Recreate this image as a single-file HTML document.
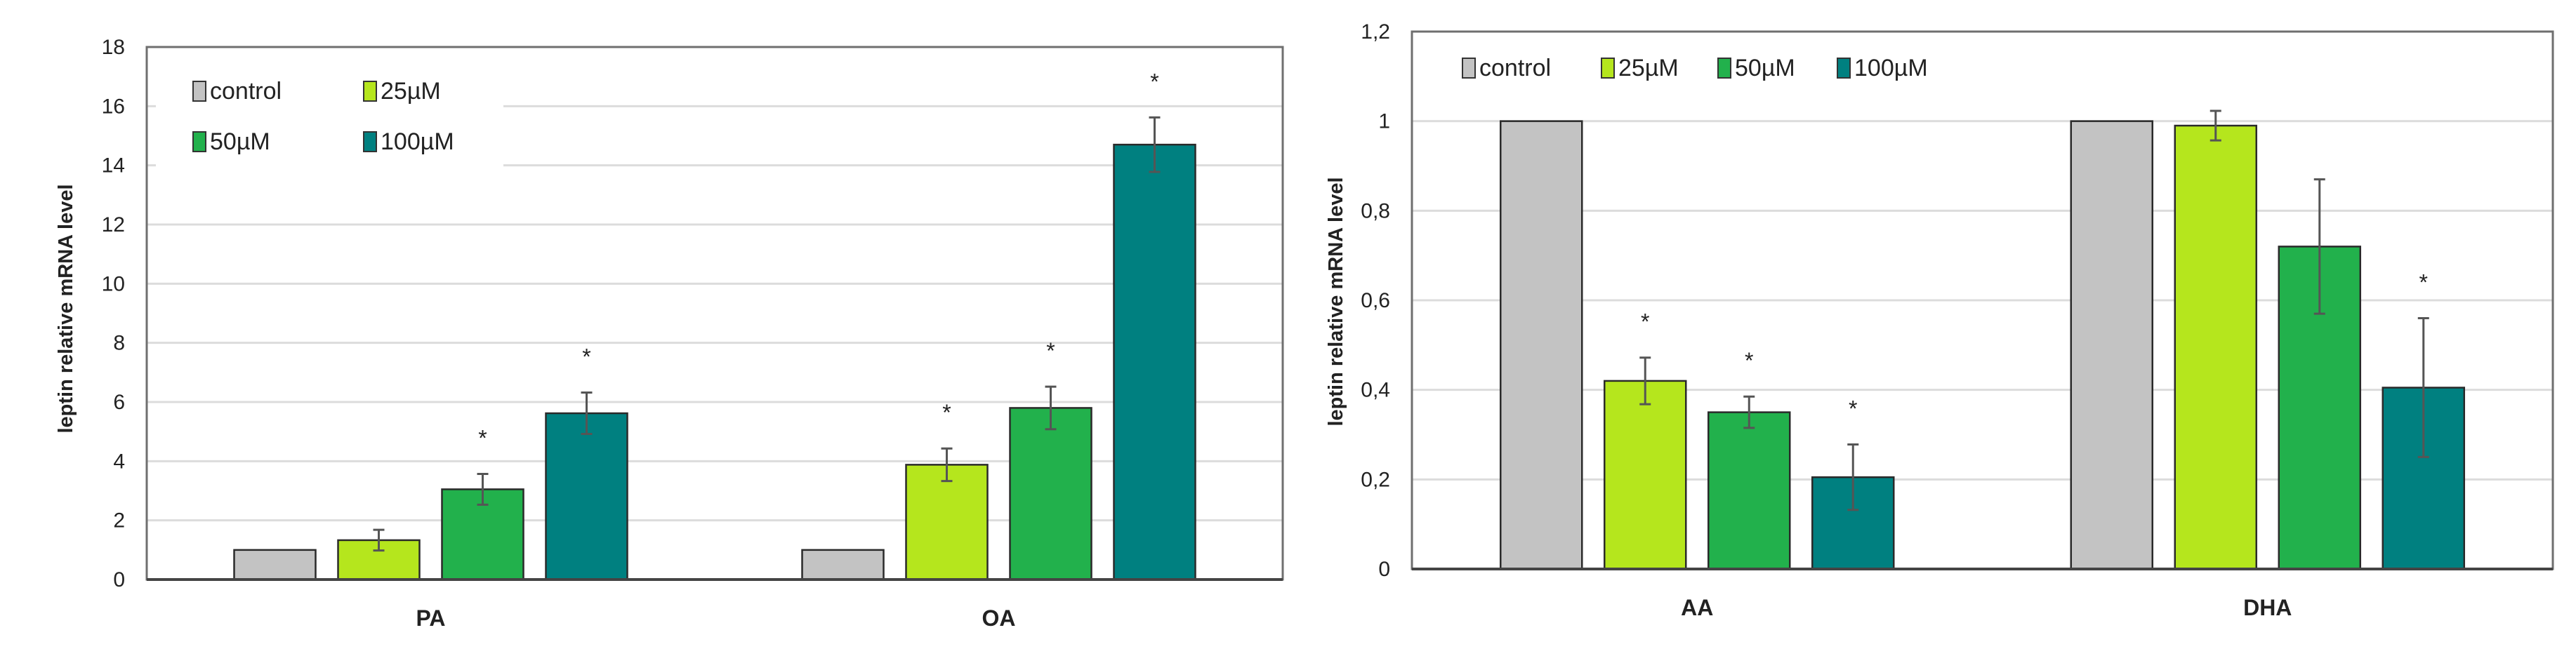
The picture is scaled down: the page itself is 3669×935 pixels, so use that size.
<!DOCTYPE html>
<html><head><meta charset="utf-8"><style>
html,body{margin:0;padding:0;background:#fff;}
svg{display:block;}
text{font-family:"Liberation Sans Narrow","Liberation Sans",sans-serif;}
</style></head><body>
<svg id="chart" width="3669" height="935" viewBox="0 0 3669 935" xmlns="http://www.w3.org/2000/svg"></svg>
<script>
const seriesNames = ["control","25µM","50µM","100µM"];
const seriesColors = ["#c3c3c3","#b5e61d","#22b14c","#008080"];
// left chart
const leftCats = ["PA","OA"];
const leftVals = [[1,1],[1.33,3.88],[3.05,5.8],[5.62,14.7]];
const leftErr = [[0,0],[0.35,0.55],[0.52,0.72],[0.7,0.92]];
const leftStar = [[false,false],[false,true],[true,true],[true,true]];
const leftTicks = [0,2,4,6,8,10,12,14,16,18];
const leftTickLabels = ["0","2","4","6","8","10","12","14","16","18"];
// right chart
const rightCats = ["AA","DHA"];
const rightVals = [[1,1],[0.42,0.99],[0.35,0.72],[0.205,0.405]];
const rightErr = [[0,0],[0.052,0.033],[0.035,0.15],[0.073,0.155]];
const rightStar = [[false,false],[true,false],[true,false],[true,true]];
const rightTicks = [0,0.2,0.4,0.6,0.8,1,1.2];
const rightTickLabels = ["0","0,2","0,4","0,6","0,8","1","1,2"];

const NS="http://www.w3.org/2000/svg";
const svg=document.getElementById('chart');
function mk(tag,attrs,parent,txt){const e=document.createElementNS(NS,tag);for(const k in attrs)e.setAttribute(k,attrs[k]);if(txt!==undefined)e.textContent=txt;(parent||svg).appendChild(e);return e;}

function drawChart(o){
  const g=mk('g',{});
  
  
  const y=v=>o.y0-(v-o.min)/(o.max-o.min)*(o.y0-o.y1);
  const catW=(o.x1-o.x0)/o.cats.length;
  const cx=i=>o.x0+catW*(i+0.5);
  // gridlines
  o.ticks.forEach((t,i)=>{
    if(t>o.min){const l=mk('line',{x1:o.x0,x2:o.x1,y1:y(t),y2:y(t),stroke:'#dcdcdc','stroke-width':3},g);
      
      }
    const tl=mk('text',{x:o.tickX,y:y(t)+10,'text-anchor':'end','font-size':30,fill:'#222'},g,o.tickLabels[i]);
    
    
  });
  // frame
  const fr=mk('rect',{x:o.x0,y:o.y1,width:o.x1-o.x0,height:o.y0-o.y1,fill:'none',stroke:'#6f6f6f','stroke-width':3},g);
  
  
  // legend
  const lb=mk('rect',{x:o.legBox[0],y:o.legBox[1],width:o.legBox[2],height:o.legBox[3],fill:'#fff'},g);
  
  
  seriesNames.forEach((s,k)=>{
    const p=o.legPos[k];
    const r=mk('rect',{x:p[0],y:p[1]-13,width:18,height:28,fill:seriesColors[k],stroke:'#333','stroke-width':2},g);
    
    
    const t=mk('text',{x:p[0]+24,y:p[1]+12,'font-size':34,fill:'#222'},g,s);
    
    
  });
  // bars
  const bw=116, pitch=148;
  o.cats.forEach((c,i)=>{
    seriesNames.forEach((s,k)=>{
      const v=o.vals[k][i];
      const bx=cx(i)+(k-1.5)*pitch-bw/2;
      const b=mk('rect',{x:bx,y:y(v),width:bw,height:y(o.min)-y(v),fill:seriesColors[k],stroke:'#2a2a2a','stroke-width':2.5},g);
      
      
      const e=o.err[k][i];
      const mx=bx+bw/2;
      if(e>0){
        const el=mk('path',{d:`M${mx},${y(v-e)}V${y(v+e)}M${mx-8},${y(v-e)}H${mx+8}M${mx-8},${y(v+e)}H${mx+8}`,stroke:'#555','stroke-width':3,fill:'none'},g);
        
        
      }
      if(o.star[k][i]){
        const st=mk('text',{x:mx,y:y(v+e)-o.starGap,'text-anchor':'middle','font-size':32,fill:'#222'},g,'*');
        
        
      }
    });
    const xl=mk('text',{x:cx(i),y:o.catY,'text-anchor':'middle','font-size':32,'font-weight':'bold',fill:'#222'},g,c);
    
    
  });
  const ax=mk('line',{x1:o.x0,x2:o.x1,y1:o.y0,y2:o.y0,stroke:'#444','stroke-width':4},g);
  
  
  const yt=mk('text',{x:0,y:0,transform:`translate(${o.labX},${o.labY}) rotate(-90)`,'text-anchor':'middle','font-size':29,'font-weight':'bold',fill:'#222',style:'font-family:"Liberation Sans",sans-serif'},g,'leptin relative mRNA level');
  
  
}
drawChart({name:'left-chart',x0:209,x1:1827,y0:826,y1:67,min:0,max:18,cats:leftCats,vals:leftVals,err:leftErr,star:leftStar,
  ticks:leftTicks,tickLabels:leftTickLabels,tickX:178,legBox:[222,100,495,140],
  legPos:[[275,129],[518,129],[275,201],[518,201]],catY:892,labX:103,labY:440,starGap:40});
drawChart({name:'right-chart',x0:2011,x1:3636,y0:811,y1:45,min:0,max:1.2,cats:rightCats,vals:rightVals,err:rightErr,star:rightStar,
  ticks:rightTicks,tickLabels:rightTickLabels,tickX:1980,legBox:[2070,70,780,56],
  legPos:[[2083,96],[2281,96],[2447,96],[2617,96]],catY:877,labX:1912,labY:430,starGap:40});
</script>
</body></html>
